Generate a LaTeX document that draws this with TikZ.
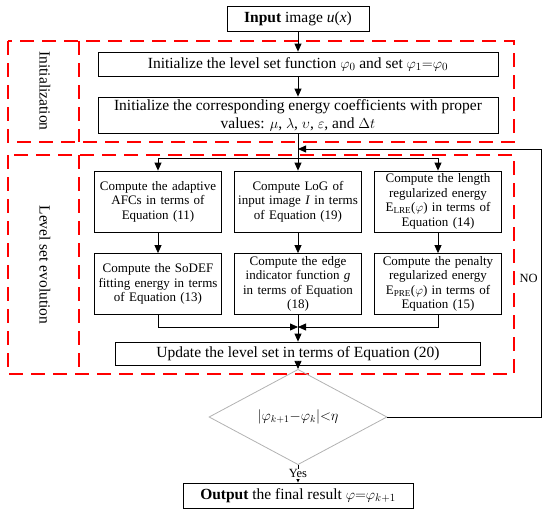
\documentclass[tikz,border=0pt]{standalone}
\usepackage{fontspec}
\setmainfont{Liberation Serif}
\usetikzlibrary{arrows.meta,shapes.geometric}

\tikzset{
  >={Triangle[length=8pt,width=7pt]},
  every path/.style={line width=0.8pt},
  procbox/.style={draw, align=center, inner sep=2pt, font=\fontsize{15.5}{18}\selectfont},
  subbox/.style={draw, align=center, inner sep=2pt, text width=123pt,
    minimum width=127pt, minimum height=61pt, font=\fontsize{13}{14.5}\selectfont},
  decision/.style={diamond, draw=gray!60, inner sep=0pt, minimum width=178pt,
    minimum height=60pt, font=\fontsize{14}{16}\selectfont},
  region/.style={red, line width=1.6pt, dash pattern=on 14pt off 8pt},
  sidelabel/.style={rotate=-90, font=\fontsize{15.5}{18}\selectfont},
  smalllabel/.style={inner sep=1pt, font=\fontsize{12.5}{14}\selectfont}
}

\begin{document}
\begin{tikzpicture}[x=1pt,y=-1pt]
    \useasboundingbox (0,0) rectangle (550,514);

    % Dashed regions
    \draw[region] (8,41) rectangle (514,142);
    \draw[region] (79,41) -- (79,142);
    \draw[region] (8,155) rectangle (514,374);
    \draw[region] (79,155) -- (79,374);
    \node[sidelabel] (initlabel) at (45,91) {Initialization};
    \node[sidelabel] (evolabel) at (45,265) {Level set evolution};

    % Main column
    \node[procbox, minimum width=142pt, minimum height=25pt] (input) at (298,19) {\textbf{Input} image \textit{u}(\textit{x})};
    \node[procbox, minimum width=400pt, minimum height=24pt] (init1) at (298,64) {Initialize the level set function $\varphi_0$ and set $\varphi_1{=}\varphi_0$};
    \node[procbox, minimum width=400pt, minimum height=36pt] (init2) at (298,115) {Initialize the corresponding energy coefficients with proper\\values: $\mu$, $\lambda$, $\upsilon$, $\varepsilon$, and $\Delta t$};

    % Three branches
    \node[subbox] (a1) at (158,201.5) {Compute the adaptive\\AFCs in terms of\\Equation (11)};
    \node[subbox] (b1) at (298,201.5) {Compute LoG of\\input image \textit{I} in terms\\of Equation (19)};
    \node[subbox] (c1) at (438,201.5) {Compute the length\\regularized energy\\E\textsubscript{LRE}($\varphi$) in terms of\\Equation (14)};
    \node[subbox] (a2) at (158,284) {Compute the SoDEF\\fitting energy in terms\\of Equation (13)};
    \node[subbox] (b2) at (298,284) {Compute the edge\\indicator function \textit{g}\\in terms of Equation\\(18)};
    \node[subbox] (c2) at (438,284) {Compute the penalty\\regularized energy\\E\textsubscript{PRE}($\varphi$) in terms of\\Equation (15)};

    \node[procbox, minimum width=365pt, minimum height=23pt] (update) at (298,353.5) {Update the level set in terms of Equation (20)};
    \node[decision] (check) at (298,417) {$|\varphi_{k+1}{-}\varphi_k|{<}\eta$};
    \node[procbox, minimum width=230pt, minimum height=25pt] (output) at (298,495.5) {\textbf{Output} the final result $\varphi{=}\varphi_{k+1}$};

    \coordinate (join) at (298,149);
    \coordinate (fork) at (298,158);
    \coordinate (merge) at (298,327);
    \coordinate (back) at (541,149);

    % Connectors
    \draw[->] (input.south) -- (init1.north);
    \draw[->] (init1.south) -- (init2.north);
    \draw (init2.south) -- (fork);
    \draw[->] (fork) -| (a1.north);
    \draw[->] (fork) -- (b1.north);
    \draw[->] (fork) -| (c1.north);
    \draw[->] (a1.south) -- (a2.north);
    \draw[->] (b1.south) -- (b2.north);
    \draw[->] (c1.south) -- (c2.north);
    \draw[->] (a2.south) |- (merge);
    \draw[->] (c2.south) |- (merge);
    \draw[->] (b2.south) -- (update.north);
    \draw[->] (update.south) -- (check.north);
    \draw[->] (check.south) -- node[smalllabel, fill=white] (yes) {Yes} (output.north);
    \draw[->] (check.east) -| (back) -- (join);
    \node[smalllabel, anchor=east] (no) at (539,278) {NO};
\end{tikzpicture}
\end{document}
